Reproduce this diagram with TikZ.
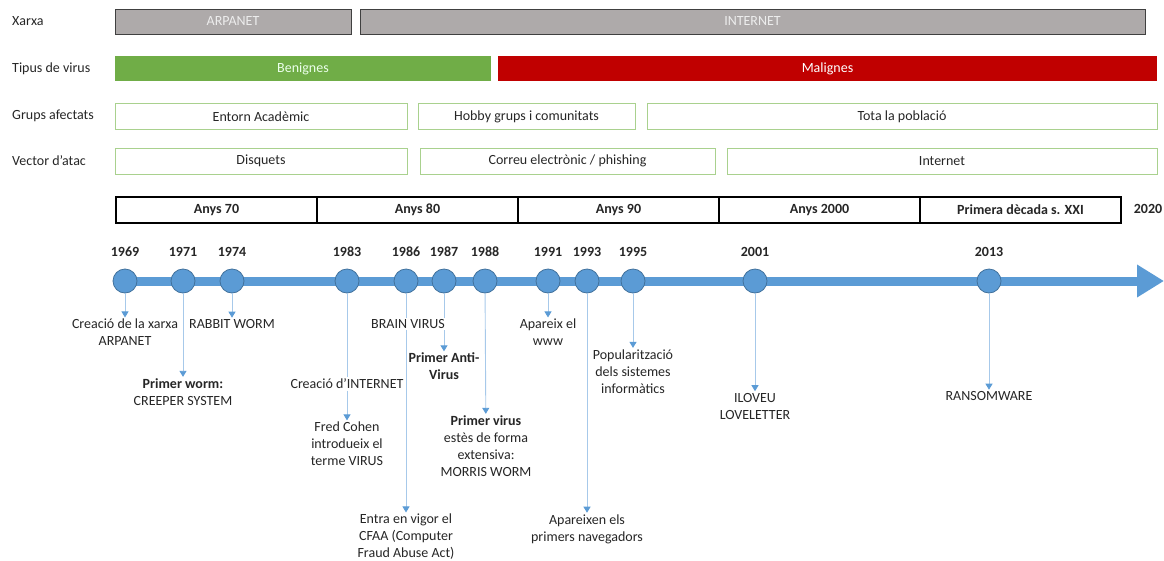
\documentclass[tikz,border=0pt]{standalone}
\usepackage{fontspec}
\setmainfont{Carlito}
\usetikzlibrary{arrows.meta}
\definecolor{txt}{HTML}{262626}
\definecolor{netgray}{HTML}{AEAAAA}
\definecolor{netedge}{HTML}{404040}
\definecolor{goodgreen}{HTML}{70AD47}
\definecolor{badred}{HTML}{C00000}
\definecolor{lightgreen}{HTML}{A9D18E}
\definecolor{tlblue}{HTML}{5B9BD5}
\definecolor{tledge}{HTML}{41719C}
\definecolor{leader}{HTML}{A7C9EA}
\tikzset{
  base/.style={font=\fontsize{14}{17}\selectfont, text=txt},
  rowlabel/.style={base, anchor=west, inner sep=0pt},
  netbar/.style={base, fill=netgray, draw=netedge, line width=1pt, minimum height=25pt, text=white!93!black, inner sep=0pt},
  typebar/.style={base, minimum height=25pt, inner sep=0pt, text=white},
  greenbox/.style={base, draw=lightgreen, line width=1pt, minimum height=26pt, inner sep=0pt},
  decade/.style={base, draw=black, line width=1.1pt, minimum height=26pt, minimum width=201pt, inner sep=0pt, font=\fontsize{14}{17}\selectfont\bfseries},
  event/.style={circle, fill=tlblue, draw=tledge, line width=0.8pt, minimum size=24pt, inner sep=0pt},
  year/.style={base, font=\fontsize{14}{17}\selectfont\bfseries, inner sep=0pt},
  note/.style={base, align=center, inner sep=1.5pt, fill=white},
  lead/.style={draw=leader, line width=0.9pt},
  leadarrow/.style={lead, -{Triangle[width=7pt,length=6pt,fill=tlblue,color=tlblue]}},
}
\begin{document}
\begin{tikzpicture}[x=1pt,y=-1pt]
\useasboundingbox (0,0) rectangle (1164,560);

% row captions
\node[rowlabel] (lx) at (12,21) {Xarxa};
\node[rowlabel] (lt) at (12,69) {Tipus de virus};
\node[rowlabel] (lg) at (12,116) {Grups afectats};
\node[rowlabel] (lv) at (12,161) {Vector d’atac};

% network
\node[netbar, minimum width=236pt] (arpa) at (233,21.5) {ARPANET};
\node[netbar, minimum width=785pt] (inet) at (752.5,21.5) {INTERNET};

% virus type
\node[typebar, fill=goodgreen, minimum width=376pt, text=green!8!white] (ben) at (303,68.5) {Benignes};
\node[typebar, fill=badred, minimum width=659pt] (mal) at (827.5,68.5) {Malignes};

% affected groups
\node[greenbox, minimum width=292pt] (g1) at (261,116.5) {Entorn Acadèmic};
\node[greenbox, minimum width=217pt] (g2) at (526.5,116.5) {Hobby grups i comunitats};
\node[greenbox, minimum width=510pt] (g3) at (902,116.5) {Tota la població};

% attack vector
\node[greenbox, minimum width=292pt] (v1) at (261,161) {Disquets};
\node[greenbox, minimum width=295pt] (v2) at (567.5,161) {Correu electrònic / phishing};
\node[greenbox, minimum width=430pt] (v3) at (942,161) {Internet};

% decades
\node[decade] (d70) at (216.5,210) {Anys 70};
\node[decade] (d80) at (417.5,210) {Anys 80};
\node[decade] (d90) at (618.5,210) {Anys 90};
\node[decade] (d00) at (819.5,210) {Anys 2000};
\node[decade] (d10) at (1020.5,210) {Primera dècada s. XXI};
\node[year] (y2020) at (1148,209) {2020};

% time axis
\coordinate (axstart) at (114,281);
\coordinate (axend) at (1164,281);
\draw[tlblue, line width=9pt, -{Triangle[width=31pt,length=27pt]}] (axstart) -- (axend);

% events on the axis
\foreach \n/\x/\yr in {e69/125/1969, e71/183/1971, e74/232/1974, e83/347/1983,
  e86/406/1986, e87/444/1987, e88/485/1988, e91/548/1991, e93/587/1993,
  e95/633/1995, e01/755/2001, e13/989/2013}{
  \node[event] (\n) at (\x,281) {};
  \node[year] (\n y) at (\x,252) {\yr};
}

% event descriptions
\node[note] (t69) at (125,332.5) {Creació de la xarxa\\ARPANET};
\node[note] (t71) at (183,392) {\textbf{Primer worm:}\\CREEPER SYSTEM};
\node[note] (t74) at (232,324) {RABBIT WORM};
\node[note] (t83a) at (347,384) {Creació d’INTERNET};
\node[note] (t83b) at (347,444) {Fred Cohen\\introdueix el\\terme VIRUS};
\node[note] (t86b) at (406,537) {Entra en vigor el\\CFAA (Computer\\Fraud Abuse Act)};
\node[note] (t87) at (444,366.5) {\textbf{Primer Anti-}\\\textbf{Virus}};
\node[note] (t88) at (486,446) {\textbf{Primer virus}\\estès de forma\\extensiva:\\MORRIS WORM};
\node[note] (t91) at (548,332.5) {Apareix el\\www};
\node[note] (t93) at (587,529) {Apareixen els\\primers navegadors};
\node[note] (t95) at (633,371.5) {Popularització\\dels sistemes\\informàtics};
\node[note] (t01) at (755,406) {ILOVEU\\LOVELETTER};
\node[note] (t13) at (989,396) {RANSOMWARE};

% leader lines
\draw[leadarrow] (e69) -- (t69);
\draw[leadarrow] (e71) -- (t71);
\draw[leadarrow] (e74) -- (t74);
\draw[lead] (e83) -- (t83a);
\draw[leadarrow] (t83a) -- (t83b);
\draw[leadarrow] (e86) -- (t86b);
\draw[leadarrow] (e87) -- (t87);
\draw[leadarrow] (e88) -- (t88);
\draw[leadarrow] (e91) -- (t91);
\draw[leadarrow] (e93) -- (t93);
\draw[leadarrow] (e95) -- (t95);
\draw[leadarrow] (e01) -- (t01);
\draw[leadarrow] (e13) -- (t13);

% label sitting on the 1986 leader
\node[note] (t86a) at (408,324) {BRAIN VIRUS};
\end{tikzpicture}
\end{document}
